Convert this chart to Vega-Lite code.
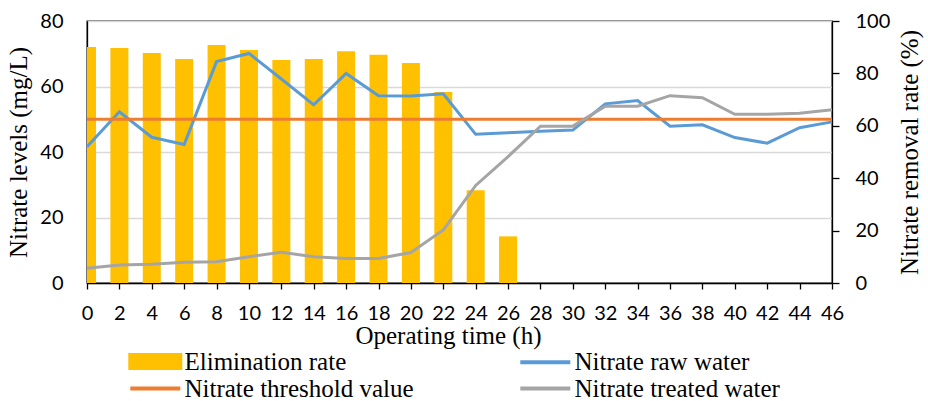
{
  "$schema": "https://vega.github.io/schema/vega-lite/v6.json",
  "width": 745,
  "height": 262,
  "autosize": {"type": "none"},
  "padding": {"left": 87, "top": 21, "right": 96, "bottom": 118},
  "background": "white",
  "config": {"view": {"stroke": "#000", "strokeWidth": 1.3}, "font": "Liberation Serif"},
  "datasets": {
    "bars": [
      {"time": 0, "rate": 90.1, "series": "Elimination rate"},
      {"time": 2, "rate": 89.7, "series": "Elimination rate"},
      {"time": 4, "rate": 87.8, "series": "Elimination rate"},
      {"time": 6, "rate": 85.5, "series": "Elimination rate"},
      {"time": 8, "rate": 90.8, "series": "Elimination rate"},
      {"time": 10, "rate": 88.9, "series": "Elimination rate"},
      {"time": 12, "rate": 85.1, "series": "Elimination rate"},
      {"time": 14, "rate": 85.5, "series": "Elimination rate"},
      {"time": 16, "rate": 88.5, "series": "Elimination rate"},
      {"time": 18, "rate": 87.1, "series": "Elimination rate"},
      {"time": 20, "rate": 84.0, "series": "Elimination rate"},
      {"time": 22, "rate": 72.9, "series": "Elimination rate"},
      {"time": 24, "rate": 35.4, "series": "Elimination rate"},
      {"time": 26, "rate": 17.8, "series": "Elimination rate"}
    ],
    "lines": [
      {"time": 0, "series": "Nitrate raw water", "value": 41.6},
      {"time": 2, "series": "Nitrate raw water", "value": 52.3},
      {"time": 4, "series": "Nitrate raw water", "value": 44.5},
      {"time": 6, "series": "Nitrate raw water", "value": 42.3},
      {"time": 8, "series": "Nitrate raw water", "value": 67.6},
      {"time": 10, "series": "Nitrate raw water", "value": 70.1},
      {"time": 12, "series": "Nitrate raw water", "value": 62.3},
      {"time": 14, "series": "Nitrate raw water", "value": 54.4},
      {"time": 16, "series": "Nitrate raw water", "value": 64.0},
      {"time": 18, "series": "Nitrate raw water", "value": 57.2},
      {"time": 20, "series": "Nitrate raw water", "value": 57.1},
      {"time": 22, "series": "Nitrate raw water", "value": 57.8},
      {"time": 24, "series": "Nitrate raw water", "value": 45.4},
      {"time": 26, "series": "Nitrate raw water", "value": 45.9},
      {"time": 28, "series": "Nitrate raw water", "value": 46.3},
      {"time": 30, "series": "Nitrate raw water", "value": 46.7},
      {"time": 32, "series": "Nitrate raw water", "value": 54.7},
      {"time": 34, "series": "Nitrate raw water", "value": 55.7},
      {"time": 36, "series": "Nitrate raw water", "value": 47.9},
      {"time": 38, "series": "Nitrate raw water", "value": 48.3},
      {"time": 40, "series": "Nitrate raw water", "value": 44.4},
      {"time": 42, "series": "Nitrate raw water", "value": 42.7},
      {"time": 44, "series": "Nitrate raw water", "value": 47.4},
      {"time": 46, "series": "Nitrate raw water", "value": 49.2},
      {"time": 0, "series": "Nitrate threshold value", "value": 50},
      {"time": 2, "series": "Nitrate threshold value", "value": 50},
      {"time": 4, "series": "Nitrate threshold value", "value": 50},
      {"time": 6, "series": "Nitrate threshold value", "value": 50},
      {"time": 8, "series": "Nitrate threshold value", "value": 50},
      {"time": 10, "series": "Nitrate threshold value", "value": 50},
      {"time": 12, "series": "Nitrate threshold value", "value": 50},
      {"time": 14, "series": "Nitrate threshold value", "value": 50},
      {"time": 16, "series": "Nitrate threshold value", "value": 50},
      {"time": 18, "series": "Nitrate threshold value", "value": 50},
      {"time": 20, "series": "Nitrate threshold value", "value": 50},
      {"time": 22, "series": "Nitrate threshold value", "value": 50},
      {"time": 24, "series": "Nitrate threshold value", "value": 50},
      {"time": 26, "series": "Nitrate threshold value", "value": 50},
      {"time": 28, "series": "Nitrate threshold value", "value": 50},
      {"time": 30, "series": "Nitrate threshold value", "value": 50},
      {"time": 32, "series": "Nitrate threshold value", "value": 50},
      {"time": 34, "series": "Nitrate threshold value", "value": 50},
      {"time": 36, "series": "Nitrate threshold value", "value": 50},
      {"time": 38, "series": "Nitrate threshold value", "value": 50},
      {"time": 40, "series": "Nitrate threshold value", "value": 50},
      {"time": 42, "series": "Nitrate threshold value", "value": 50},
      {"time": 44, "series": "Nitrate threshold value", "value": 50},
      {"time": 46, "series": "Nitrate threshold value", "value": 50},
      {"time": 0, "series": "Nitrate treated water", "value": 4.5},
      {"time": 2, "series": "Nitrate treated water", "value": 5.5},
      {"time": 4, "series": "Nitrate treated water", "value": 5.7},
      {"time": 6, "series": "Nitrate treated water", "value": 6.3},
      {"time": 8, "series": "Nitrate treated water", "value": 6.5},
      {"time": 10, "series": "Nitrate treated water", "value": 8.0},
      {"time": 12, "series": "Nitrate treated water", "value": 9.4},
      {"time": 14, "series": "Nitrate treated water", "value": 8.0},
      {"time": 16, "series": "Nitrate treated water", "value": 7.5},
      {"time": 18, "series": "Nitrate treated water", "value": 7.5},
      {"time": 20, "series": "Nitrate treated water", "value": 9.3},
      {"time": 22, "series": "Nitrate treated water", "value": 16.2},
      {"time": 24, "series": "Nitrate treated water", "value": 29.8},
      {"time": 26, "series": "Nitrate treated water", "value": 38.6},
      {"time": 28, "series": "Nitrate treated water", "value": 47.9},
      {"time": 30, "series": "Nitrate treated water", "value": 47.9},
      {"time": 32, "series": "Nitrate treated water", "value": 54.0},
      {"time": 34, "series": "Nitrate treated water", "value": 54.0},
      {"time": 36, "series": "Nitrate treated water", "value": 57.2},
      {"time": 38, "series": "Nitrate treated water", "value": 56.6},
      {"time": 40, "series": "Nitrate treated water", "value": 51.5},
      {"time": 42, "series": "Nitrate treated water", "value": 51.5},
      {"time": 44, "series": "Nitrate treated water", "value": 51.8},
      {"time": 46, "series": "Nitrate treated water", "value": 52.9}
    ]
  },
  "layer": [
    {
      "data": {"name": "bars"},
      "mark": {"type": "bar", "size": 18, "clip": true},
      "encoding": {
        "x": {
          "field": "time",
          "type": "quantitative",
          "scale": {"domain": [0, 46], "nice": false, "zero": false, "padding": 0},
          "axis": {
            "values": [0, 2, 4, 6, 8, 10, 12, 14, 16, 18, 20, 22, 24, 26, 28, 30, 32, 34, 36, 38, 40, 42, 44, 46],
            "tickCount": 100,
            "format": "d",
            "grid": false,
            "labelFlush": false,
            "labelOverlap": false,
            "labelFont": "Lato",
            "labelFontSize": 20,
            "labelColor": "#000",
            "labelPadding": 14,
            "tickColor": "#000",
            "tickSize": 6,
            "tickWidth": 1.3,
            "domainColor": "#000",
            "domainWidth": 1.3,
            "title": "Operating time (h)",
            "titleFont": "Liberation Serif",
            "titleFontSize": 25,
            "titleFontWeight": "normal",
            "titleColor": "#000",
            "titlePadding": 0,
            "titleX": 361,
            "encode": {"ticks": {"update": {"strokeOpacity": {"signal": "datum.value % 4 === 0 ? 1 : 0"}}}}
          }
        },
        "y": {
          "field": "rate",
          "type": "quantitative",
          "scale": {"domain": [0, 100], "nice": false},
          "axis": {
            "orient": "right",
            "values": [0, 20, 40, 60, 80, 100],
            "format": "d",
            "grid": false,
            "labelFlush": false,
            "labelFont": "Lato",
            "labelFontSize": 20,
            "labelColor": "#000",
            "labelAlign": "left",
            "labelPadding": 16,
            "tickColor": "#000",
            "tickSize": 7,
            "tickWidth": 1.3,
            "domainColor": "#000",
            "domainWidth": 1.3,
            "title": "Nitrate removal rate (%)",
            "titleFont": "Liberation Serif",
            "titleFontSize": 25,
            "titleFontWeight": "normal",
            "titleColor": "#000",
            "titleAngle": 270,
            "titleBaseline": "top",
            "titlePadding": 8
          }
        },
        "color": {
          "field": "series",
          "type": "nominal",
          "scale": {
            "domain": ["Elimination rate", "Nitrate threshold value", "Nitrate raw water", "Nitrate treated water"],
            "range": ["#FFC000", "#ED7D31", "#5B9BD5", "#A5A5A5"]
          },
          "legend": {
            "orient": "none",
            "legendX": 55.8,
            "legendY": 328,
            "columns": 2,
            "columnPadding": 98,
            "rowPadding": -2,
            "padding": 0,
            "title": null,
            "symbolSize": 400,
            "symbolStrokeWidth": 4,
            "labelOffset": 16.7,
            "labelFont": "Liberation Serif",
            "labelFontSize": 25,
            "labelColor": "#000",
            "labelLimit": 500,
            "encode": {
              "symbols": {
                "update": {
                  "shape": {"signal": "datum.value === 'Elimination rate' ? 'M-2.5,-0.65H2.5V0.65H-2.5Z' : 'M-2.5,0H2.5'"},
                  "fill": {"signal": "datum.value === 'Elimination rate' ? '#FFC000' : 'transparent'"},
                  "stroke": {"signal": "datum.value === 'Elimination rate' ? 'transparent' : datum.value === 'Nitrate raw water' ? '#5B9BD5' : datum.value === 'Nitrate threshold value' ? '#ED7D31' : '#A5A5A5'"},
                  "strokeWidth": {"value": 4},
                  "opacity": {"value": 1}
                }
              }
            }
          }
        }
      }
    },
    {
      "data": {"name": "lines"},
      "mark": {"type": "line", "strokeWidth": 3},
      "encoding": {
        "x": {"field": "time", "type": "quantitative", "scale": {"padding": 0}, "axis": {"labelOverlap": false, "tickCount": 100, "format": "d"}},
        "y": {
          "field": "value",
          "type": "quantitative",
          "scale": {"domain": [0, 80], "nice": false},
          "axis": {
            "orient": "left",
            "values": [0, 20, 40, 60, 80],
            "format": "d",
            "grid": true,
            "gridColor": "#d9d9d9",
            "gridWidth": 1.3,
            "ticks": false,
            "tickSize": 0,
            "labelFlush": false,
            "labelFont": "Lato",
            "labelFontSize": 20,
            "labelColor": "#000",
            "labelPadding": 24,
            "domainColor": "#000",
            "domainWidth": 1.3,
            "title": "Nitrate levels (mg/L)",
            "titleFont": "Liberation Serif",
            "titleFontSize": 25,
            "titleFontWeight": "normal",
            "titleColor": "#000",
            "titlePadding": 8
          }
        },
        "color": {"field": "series", "type": "nominal"}
      }
    }
  ],
  "resolve": {"scale": {"y": "independent"}}
}
